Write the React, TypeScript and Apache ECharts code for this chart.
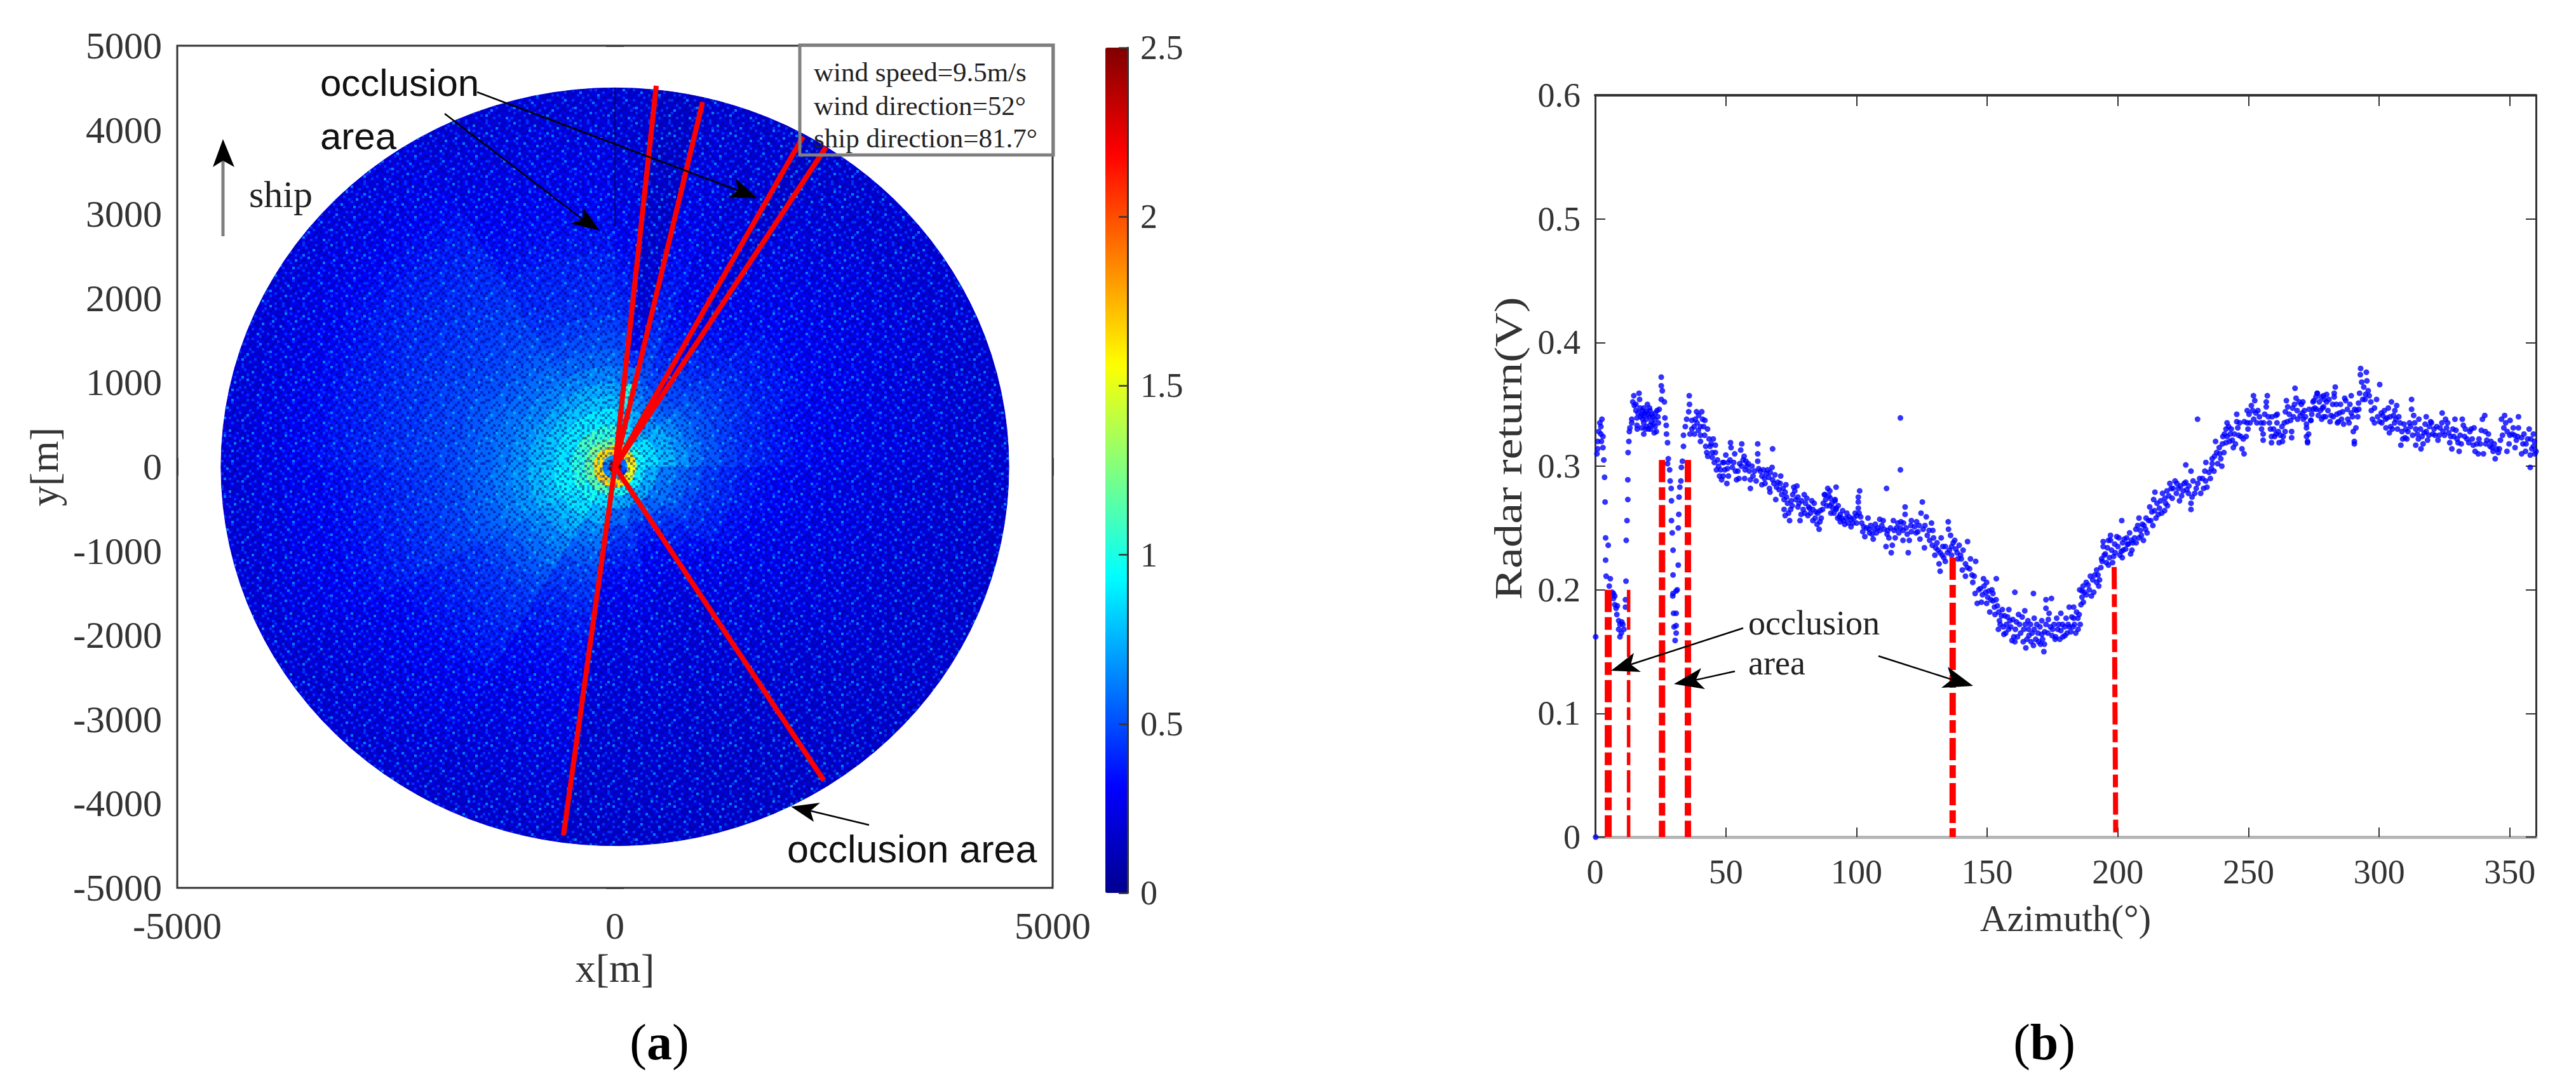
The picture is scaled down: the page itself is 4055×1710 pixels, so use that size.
import React, { useEffect, useRef } from "react";
import * as echarts from "echarts";

// ---- Panel (a): mean radar return per polar cell ----
const bearingEdges = [0, 6, 13, 20, 28.7, 32.4, 45, 70, 90, 110, 130, 147.3, 165, 187.7, 210, 240, 270, 300, 330, 360];
const rangeEdges = [0, 75, 145, 250, 350, 500, 700, 850, 1000, 1200, 1400, 1600, 1800, 2050, 2300, 2550, 2800, 3050, 3300, 3550, 3800, 4150, 4500];
const returnByRing = [
  [250, 250, 250, 250, 250, 250, 250, 250, 250, 250, 250, 250, 250, 250, 250, 250, 250, 250, 250],
  [60, 60, 55, 55, 50, 45, 55, 60, 50, 45, 50, 60, 70, 80, 70, 60, 60, 70, 65],
  [160, 160, 160, 160, 160, 160, 165, 160, 155, 150, 155, 165, 165, 165, 170, 165, 165, 165, 165],
  [115, 115, 110, 105, 100, 95, 100, 95, 90, 90, 95, 95, 100, 110, 115, 118, 118, 125, 120],
  [100, 95, 90, 85, 75, 80, 88, 88, 75, 75, 75, 70, 75, 88, 98, 104, 104, 110, 105],
  [85, 80, 80, 72, 58, 68, 75, 78, 62, 60, 56, 50, 56, 76, 88, 92, 88, 90, 90],
  [78, 100, 68, 62, 48, 58, 66, 68, 56, 54, 46, 40, 46, 66, 78, 82, 80, 80, 80],
  [70, 105, 60, 55, 42, 52, 58, 60, 50, 48, 42, 36, 42, 60, 72, 76, 74, 72, 74],
  [60, 60, 52, 46, 36, 48, 52, 52, 44, 42, 37, 32, 37, 54, 64, 68, 66, 64, 64],
  [54, 40, 48, 42, 32, 44, 47, 46, 40, 38, 33, 29, 33, 48, 58, 62, 60, 58, 56],
  [48, 28, 44, 38, 29, 40, 43, 41, 36, 34, 30, 27, 30, 44, 52, 56, 56, 54, 50],
  [44, 25, 40, 36, 27, 37, 40, 38, 33, 31, 28, 25, 28, 40, 47, 52, 52, 50, 46],
  [40, 23, 38, 33, 25, 34, 37, 35, 31, 29, 26, 24, 26, 37, 43, 47, 48, 47, 42],
  [37, 22, 36, 31, 24, 32, 35, 32, 29, 27, 25, 23, 25, 34, 40, 44, 46, 45, 40],
  [34, 21, 34, 29, 23, 30, 32, 30, 27, 26, 24, 22, 24, 32, 37, 41, 43, 43, 38],
  [31, 20, 32, 28, 22, 29, 30, 29, 26, 25, 23, 22, 23, 30, 35, 38, 41, 41, 35],
  [29, 20, 30, 27, 21, 28, 29, 27, 25, 24, 22, 21, 22, 28, 32, 36, 38, 39, 33],
  [27, 19, 28, 25, 20, 26, 27, 26, 24, 23, 21, 20, 21, 27, 30, 33, 36, 37, 31],
  [25, 19, 27, 24, 20, 25, 26, 25, 23, 22, 21, 20, 21, 25, 28, 31, 33, 34, 29],
  [24, 18, 25, 23, 19, 24, 25, 24, 22, 21, 20, 19, 20, 24, 26, 29, 30, 31, 27],
  [22, 18, 23, 22, 19, 22, 23, 22, 21, 21, 20, 19, 20, 22, 24, 26, 27, 28, 25],
  [21, 18, 21, 21, 18, 21, 22, 21, 20, 20, 19, 18, 19, 21, 22, 23, 24, 25, 23],
];
const jetColors = ["#00008f", "#0000ff", "#0080ff", "#00ffff", "#80ff80", "#ffff00", "#ff8000", "#ff0000", "#800000"];
const occlusionEnds = [[472, 4525], [1001, 4329], [2148, 3921], [2409, 3793], [-588, -4374], [2387, -3725]];
const speckleTile = [
  "010020100130010201001002",
  "200101002001200100310100",
  "001300120010010020010201",
  "120001001200100130200010",
  "001020010002011000102003",
  "030100200110200201000120",
  "100201001003001002013001",
  "002010130020100100200100",
  "210001000102003010001021",
  "001200201010010200130200",
  "100010020001201001000102",
  "020103001200010020201010",
  "001000210010300100010200",
  "120200010102001210030001",
  "000102001000120001020110",
  "201010300201001020100002",
  "010002010010200103001201",
  "002100120100012000201000",
  "100201000230100210010020",
  "030010102000201000102101",
  "200100010120010030200010",
  "010021000001002101001203",
  "102000130200100010020100",
  "001010002010210201000012",
];

// ---- Panel (b): azimuth (deg), return (mV) pairs ----
const startPoints = [0.2, 0, 0.2, 162, 0.7, 310, 1, 320, 1.8, 335, 2.2, 332, 2.2, 326, 3, 324, 3, 315, 3.3, 305, 3.6, 291, 3.8, 271, 4, 242, 5, 236, 4, 224, 4.2, 211, 5.8, 209, 5.4, 203, 7, 197, 1, 314, 1.4, 328, 2.6, 338, 2.4, 320,
  6.5, 198, 7, 193, 7.5, 188, 7.5, 195, 8, 185, 8.3, 180, 8.5, 187, 9, 175, 9, 168, 9.5, 162, 9.5, 172, 10, 165, 10.2, 174, 10.6, 172, 11, 168, 11.6, 186, 11.6, 192, 11.8, 207];
const firstPlateau = [11.9, 240, 12.2, 256, 12.5, 273, 12.5, 289, 12.6, 311, 12.9, 320, 13.1, 328, 13.3, 331, 14, 338, 14, 335, 14.4, 352, 14.8, 357, 16.8, 359, 17, 354, 15.6, 345, 16, 339, 16, 333, 16.1, 330, 17.2, 347, 18.6, 347, 18.6, 341, 18.6, 335, 18.6, 326, 19.6, 344, 19.6, 338, 19.6, 332, 20.8, 347, 20.8, 340, 20.4, 330, 21.7, 342, 22.9, 338, 22.9, 332, 22.6, 327, 23.7, 345, 24.5, 346, 25.3, 354, 25.7, 361, 25.3, 365, 25.3, 372, 26.5, 352, 26.7, 339, 27.2, 333, 27.3, 326, 27.7, 319, 28, 306, 27.7, 302, 28.5, 297, 28.7, 288, 29.1, 282, 29.2, 272, 29.2, 256, 29.5, 246, 29.8, 232, 29.8, 212, 31.4, 200, 29.8, 197, 31.8, 220, 31.8, 250, 32, 261, 32.1, 275, 32.4, 283, 32.8, 288, 33, 299, 33.4, 304, 33.8, 316, 33.8, 325, 34.5, 332, 35, 338, 35.8, 344, 36.1, 350, 36, 357, 29.7, 195, 31, 199, 30, 181, 31, 181, 30.2, 170, 31, 171, 30.6, 159, 31, 165, 21.5, 336, 21, 333, 17.8, 342, 17.8, 331, 20, 350, 15, 349,
  15.6, 350, 16.4, 343, 17.4, 340, 18, 345, 18.2, 338, 19, 343, 19.2, 330, 20.2, 342, 21, 345, 21.2, 330, 22, 340, 22.2, 334, 23, 343, 23.4, 328, 24, 340, 24.2, 335];
const gentleDecline = [36.3, 326, 37, 330, 37, 337, 37.9, 332, 38.3, 338, 39, 335, 39.5, 329, 40.3, 332, 41.1, 338, 41.5, 332, 40.3, 325, 40.3, 320, 41.9, 325, 42.3, 316, 42.7, 311, 43.1, 308, 44, 316, 44.8, 311, 44.8, 307, 46, 311, 45.6, 303, 46.4, 297, 47.6, 292, 48, 297, 49.2, 303, 49.6, 297, 50.4, 286, 50.9, 303, 50, 309, 52, 315, 51.8, 319, 52.5, 299, 53.7, 296, 54.1, 289, 55.3, 302, 55.7, 313, 56.1, 318, 57, 308, 57.7, 304, 57.4, 297, 59, 296, 59.4, 289, 59.4, 282, 61, 296, 62.2, 304, 62.2, 310, 62.2, 318, 63.8, 292, 63.8, 285, 65.5, 294, 67.9, 314, 67.7, 299, 67.9, 289, 66.7, 282, 66.9, 279, 69.1, 273, 69.9, 287, 71, 292, 71.9, 282, 72.7, 279, 72.3, 273, 73.6, 270, 72.3, 265, 72.7, 260, 74.8, 265, 74.4, 256, 76.4, 280, 77.2, 284, 75.6, 277, 77.6, 275, 77.6, 267, 78.4, 256, 78.8, 261, 80, 277, 80.5, 270, 81.7, 267, 82.9, 272, 83.3, 265, 84.5, 263, 83.3, 256, 84.9, 253, 85.7, 249, 86.1, 264, 86.5, 258, 87.3, 270, 87.7, 277, 89, 282, 92.2, 283, 88.2, 273, 90.6, 270, 91.8, 272, 92.2, 265, 93.8, 261, 93.8, 255,
  89.8, 280, 89.8, 268, 91.8, 273, 92.2, 266, 93.4, 259, 94.7, 264, 95.5, 253, 96.3, 262, 97.9, 251, 97.9, 257, 99.5, 262, 100.7, 271, 100.7, 266, 101.2, 280, 100.7, 275, 101.6, 259, 102.8, 251, 103.2, 243, 104.4, 258, 104.8, 249, 106.4, 241, 106.8, 249, 108.9, 257, 109.7, 252, 111.3, 235, 111.7, 245, 113.3, 230, 113.7, 236, 111.5, 282, 114.1, 256, 115.3, 250, 117, 255, 116.8, 297, 116.8, 339, 118.6, 267, 118.6, 261, 117.8, 240, 119.8, 230, 120.2, 240, 117.8, 248, 121, 256, 121, 247, 122.2, 251, 123.5, 247, 124.7, 262, 125.2, 271, 124.3, 241, 125.5, 249, 126.7, 259, 126, 234, 127.1, 244, 128.7, 254, 129.5, 242, 130.3, 234, 130, 228, 132.4, 242, 131.6, 221, 132, 215, 132.8, 228, 134, 223, 134, 235, 135.1, 255, 135.2, 249, 136, 244, 136.4, 235, 137.6, 240, 138.5, 230, 139.3, 236, 142.5, 239];
const declineFill = [38, 326, 38.8, 344, 39.6, 341, 40.8, 344, 42, 337, 43, 330, 43.6, 322, 44.4, 318, 45.2, 322, 46, 317, 46.8, 305, 47.2, 300, 48.4, 289, 48.8, 303, 49, 292, 50.6, 298, 51, 292, 51.6, 305, 53, 303, 53.4, 310, 54.6, 296, 55, 290, 56, 300, 56.6, 305, 57.2, 290, 58, 300, 58.6, 302, 60, 300, 60.4, 292, 61.6, 288, 62.6, 298, 63.2, 296, 64.4, 297, 64.8, 290, 65, 286, 66, 297, 66.4, 291, 67, 295, 68.4, 286, 68.8, 293, 69.4, 283, 70.4, 281, 70.8, 286, 71.4, 277, 73, 285, 73.2, 275, 74, 262, 75, 272, 75.4, 268, 76, 283, 76.8, 273, 78, 270, 79, 272, 79.6, 265, 80.2, 262, 81, 274, 81.4, 260, 82, 266, 82.4, 262, 83.8, 270, 84.2, 258, 85.2, 262, 86, 255, 87, 265, 88, 277, 88.6, 268, 89.4, 276, 90, 274, 90.2, 262, 91, 266, 91.4, 262, 92.8, 258, 93, 268, 94.2, 258, 95, 256, 96, 258, 96.8, 254, 97.2, 259, 98.6, 254, 99, 258, 100, 254, 100.2, 260, 101, 262, 102, 254, 102.4, 247, 103.8, 250, 105, 246, 105.4, 252, 106, 245, 107.2, 253, 107.6, 246, 108.2, 250, 109, 248, 110.2, 256, 110.6, 249, 112, 248, 112.4, 242, 113, 250, 114.4, 248, 114.8, 242, 115.8, 254, 116.2, 246, 116.8, 250, 118, 254, 119, 250, 119.4, 245, 120.8, 252, 122.8, 246, 123, 255, 124, 252, 126.2, 252, 127.8, 248, 128, 240, 129, 236, 129.2, 248, 130.8, 238, 131.2, 232, 132, 230, 133, 235, 133.4, 226, 134.8, 230, 135.6, 232, 136.4, 228, 137, 238, 138, 233, 138.8, 225, 139.8, 228, 140.8, 232];
const troughPoints = [140.1, 225, 140.5, 216, 141.7, 221, 141.7, 211, 143.3, 217, 144.5, 206, 145, 211, 145.6, 223, 145.4, 197, 146.2, 189, 147.4, 201, 148.6, 209, 149.8, 206, 148.2, 196, 149.8, 189, 150.6, 199, 152.2, 197, 153.5, 209, 152.2, 191, 153.9, 187, 151, 182, 153, 180, 154.7, 175, 155.5, 179, 154.3, 168, 157.1, 165, 158.3, 184, 156.7, 179, 158.7, 175, 159.5, 159, 160.8, 168, 160.6, 198, 162, 180, 161.6, 162, 164.4, 183, 164, 168, 164.8, 153, 165.6, 175, 166, 163, 167.7, 197, 167.7, 155, 168, 177, 168, 168, 169.7, 158, 170.9, 175, 170.9, 164, 171.7, 150, 171.9, 156, 172.5, 192, 174.6, 193, 172.5, 185, 173.7, 181, 172.5, 172, 175, 168, 176.2, 162, 176.6, 177, 178.2, 181, 178.2, 167, 180.2, 177, 179.8, 163, 181.4, 186, 181.4, 170, 183.1, 177, 183.9, 165, 183.1, 186, 184.7, 177, 185.9, 188, 186.3, 199, 186.3, 194, 186.7, 203,
  142.4, 218, 143.6, 225, 144.2, 212, 146.8, 200, 147.8, 190, 148.8, 203, 149.4, 198, 150.2, 194, 151.4, 192, 151.8, 200, 152.8, 186, 153.4, 192, 154.4, 182, 155, 172, 155.8, 184, 156.2, 170, 156.4, 164, 157.4, 172, 157.8, 178, 158.2, 168, 159, 170, 159.8, 176, 160.2, 162, 160.6, 158, 161.2, 174, 162.4, 172, 162.8, 165, 163.4, 178, 163.8, 158, 164.6, 172, 165.2, 160, 165.8, 168, 166.6, 172, 166.8, 158, 167.2, 165, 168.6, 160, 169, 172, 169.4, 165, 170.2, 170, 170.4, 156, 171.2, 160, 172, 166, 173.2, 165, 173.4, 176, 174.2, 170, 174.8, 163, 175.6, 172, 176, 160, 177, 168, 177.4, 172, 177.8, 160, 178.8, 172, 179, 162, 179.6, 170, 180.6, 165, 181, 172, 182, 166, 182.4, 178, 182.8, 170, 183.4, 172, 184.2, 182, 184.8, 168, 185.2, 180, 185.6, 172];
const risingPoints = [185.4, 200, 187.9, 206, 189.9, 195, 189.1, 200, 189.5, 211, 191.9, 216, 191.9, 206, 192.7, 203, 193.5, 218, 194.4, 239, 194.4, 235, 194, 223, 196, 234, 195.2, 229, 196.4, 220, 197.2, 244, 197.2, 240, 198.4, 227, 199.6, 243, 200, 235, 201.7, 226, 201.5, 256, 201.3, 231, 202.5, 241, 203.7, 237, 204.9, 229, 204.5, 246, 205.7, 238, 206.9, 249, 208.1, 258, 208.1, 242, 209.8, 240, 209.4, 253, 210.6, 249, 211.8, 256, 212.2, 267, 213, 263, 213.7, 273, 214.6, 258, 214.2, 279, 215.9, 266, 215.5, 261, 217.1, 278, 217.9, 264, 218.3, 270, 219.5, 276, 219.9, 286, 221.9, 288, 221.1, 282, 223.2, 282, 223.6, 272, 224.4, 276, 226, 287, 226, 301, 228, 296, 226.4, 281, 228, 265, 228, 270, 228.4, 275, 228.8, 288, 230, 282, 230.5, 338, 231.3, 290, 231.7, 278, 233.3, 296, 234.1, 283, 234.9, 295, 233.7, 303, 236.1, 302, 236.1, 306, 237.4, 320, 237.8, 311, 239.8, 300, 239.4, 306, 240.6, 311, 241.8, 335, 241.4, 330, 240.2, 324, 241.4, 319, 243, 326, 244.2, 315, 243.8, 321, 245.9, 331, 245.5, 342, 245.5, 336, 247.1, 324, 247.5, 314, 248.3, 310, 249.1, 324, 249.5, 335, 249.5, 345,
  186.8, 190, 187.2, 198, 188, 196, 188.6, 204, 190.4, 208, 190.8, 198, 191.2, 212, 192.4, 212, 193, 208, 193.8, 225, 194.8, 228, 195.6, 222, 196.4, 240, 196.8, 226, 197.6, 232, 198, 222, 198.8, 237, 199, 230, 200.4, 242, 200.8, 228, 201.8, 238, 202, 232, 203, 233, 203.4, 242, 204, 237, 205.2, 240, 205.4, 232, 206.4, 242, 207, 238, 207.6, 252, 208.6, 248, 209, 244, 210, 252, 210.8, 258, 211.2, 246, 212.6, 256, 213.4, 252, 214, 264, 215, 270, 216.4, 272, 216.8, 262, 218, 274, 218.8, 280, 219, 268, 220.4, 282, 220.8, 274, 222.4, 278, 222.6, 286, 224, 284, 225, 280, 225.4, 286, 227, 278, 227.2, 284, 229.4, 278, 230.6, 286, 232.4, 290, 232.8, 282, 233.6, 288, 235.4, 290, 235.8, 298, 236.8, 296, 237, 308, 238.2, 302, 238.8, 315, 239, 310, 240, 318, 240.8, 326, 241.8, 324, 242.4, 332, 242.8, 320, 243.4, 330, 244.6, 326, 245, 318, 246.2, 325, 246.6, 335, 248, 322, 248.4, 336, 249.8, 330];
const crestPoints = [251.1, 349, 251.9, 357, 252.4, 353, 252.8, 343, 253.2, 335, 254.8, 335, 255.6, 326, 255.6, 321, 256.8, 348, 257.2, 357, 256.8, 352, 258, 335, 258.8, 324, 258.8, 319, 260.5, 341, 260.9, 335, 260.5, 326, 261.7, 319, 263.3, 324, 263.7, 335, 264.5, 353, 264.1, 344, 266.1, 337, 266.5, 328, 266.5, 323, 266.9, 347, 267.8, 363, 268.2, 355, 269.4, 352, 269.8, 341, 271.4, 345, 272.2, 334, 273, 326, 272.6, 320, 273.8, 337, 275, 353, 275.4, 347, 276.3, 359, 277.1, 352, 276.7, 341, 278.7, 357, 278.7, 348, 278.7, 340,
  270.6, 343, 271, 338, 272.2, 331, 272.2, 324, 272.6, 319, 273.9, 337, 274.7, 352, 274.7, 346, 276.3, 359, 277.9, 356, 278.3, 347, 279.5, 340, 279.9, 358, 279.9, 352, 281.6, 341, 282.8, 356, 283.2, 364, 283.6, 350, 282.8, 359, 284, 335, 284.8, 343, 286.4, 334, 286.8, 355, 287.2, 353, 288.5, 335, 289.3, 357, 289.3, 343, 290.1, 328, 291.1, 331, 290.5, 318, 290.5, 320, 291.3, 345, 292.1, 351, 292.5, 359, 292.9, 379, 292.8, 374, 295.1, 376, 293.3, 368, 295.3, 369, 294.1, 364, 295.8, 361, 293.7, 354, 296.2, 357, 296.8, 352, 300.2, 366,
  250.2, 342, 250.6, 335, 251.6, 345, 252, 338, 253.6, 345, 254.2, 340, 255, 330, 255.8, 335, 256.2, 342, 257.6, 340, 258.4, 330, 259, 340, 259.6, 330, 260, 324, 261, 342, 261.4, 328, 262.2, 325, 262.8, 332, 263, 320, 264, 328, 264.8, 336, 265, 348, 265.6, 342, 267.2, 340, 267.6, 350, 268.6, 345, 268.8, 338, 270.2, 350, 270.8, 352, 271.8, 340, 273.2, 346, 274.2, 342, 275.8, 356, 276, 346, 277.5, 345, 278, 338, 279, 354, 280.4, 345, 280.8, 354, 281.2, 336, 282.2, 350, 282.4, 340, 283.8, 342, 284.4, 336, 285.2, 350, 285.6, 338, 286, 344, 287.8, 346, 288, 338, 288.8, 350, 289.8, 340, 290.6, 346, 291.8, 340, 292.2, 346, 294.6, 354, 294.8, 358, 297, 345];
const tailPoints = [297.4, 338, 298.2, 347, 299, 354, 298.2, 335, 300.2, 336, 301.4, 341, 302.6, 331, 303.5, 347, 303.9, 327, 304.7, 352, 305.5, 341, 305.9, 335, 306.7, 349, 307.5, 340, 308.3, 317, 308.7, 328, 309.5, 334, 309.9, 323, 311.6, 335, 312.4, 354, 312.4, 346, 313.2, 341, 314, 330, 314, 317, 315.2, 338, 316, 314, 316.4, 324, 318, 340, 317.6, 334, 318.5, 321, 319.7, 336, 320.5, 326, 322.5, 321, 324.1, 343, 323.3, 331, 325.4, 338, 325.8, 331, 327.4, 324, 327.8, 314, 329, 338, 329.4, 329, 330.6, 312, 330.2, 319, 331.8, 338, 332.2, 333, 332.7, 324, 334.3, 319, 334.7, 328, 336.3, 331, 336.7, 312, 337.9, 310, 339.1, 329, 339.5, 338, 340.4, 341, 338.7, 318, 339.9, 310, 341.2, 321, 342.4, 316, 343.6, 312, 344.4, 306, 345.6, 311, 346.4, 321, 346.8, 338, 348, 341, 347.7, 331, 348.9, 312, 349.7, 318, 350.1, 337, 350.9, 326, 351.3, 331, 352.5, 321, 353.3, 340, 353.3, 331, 354.5, 310, 354.5, 323, 356.2, 318, 357.4, 330, 357.8, 299, 357.8, 309, 359, 326, 359, 316, 360, 312,
  299.4, 340, 300.8, 343, 301, 335, 302, 345, 302.4, 338, 303, 339, 304.2, 340, 304.4, 332, 305, 330, 306, 345, 306.4, 338, 307, 330, 308, 335, 309, 322, 310.2, 330, 310.6, 322, 311, 328, 312, 332, 312.8, 325, 313.6, 335, 314.6, 326, 315, 322, 315.8, 330, 316.8, 318, 317.2, 327, 318, 328, 319, 325, 319.2, 332, 320, 335, 321, 330, 321.4, 325, 322, 332, 323, 325, 324, 335, 324.4, 328, 325, 325, 326.2, 335, 326.6, 327, 327, 319, 328.2, 330, 328.6, 324, 329.8, 322, 331, 325, 331.4, 318, 333, 330, 333.6, 322, 335.2, 330, 335.6, 322, 336, 317, 337.4, 318, 338.2, 322, 340.6, 328, 340.8, 318, 341.8, 326, 342.8, 320, 343.2, 315, 344, 318, 345, 314, 346, 314, 347.2, 325, 348.4, 335, 349, 328, 350, 325, 351.8, 325, 352, 315, 353, 324, 355, 318, 355.4, 326, 356, 312, 356.8, 322, 358, 322, 358.4, 314, 359.4, 320, 359.6, 310];
const dashedMarkers = [
  { az: [5, 5], top: 0.2, width: 11 },
  { az: [12.8, 12.8], top: 0.2, width: 5.5 },
  { az: [25.6, 25.6], top: 0.305, width: 10 },
  { az: [35.5, 35.5], top: 0.305, width: 10 },
  { az: [136.8, 136.8], top: 0.226, width: 10 },
  { az: [198.6, 199.2], top: 0.2185, width: 8 },
];

const SERIF = "'Liberation Serif', 'Times New Roman', serif";
const SANS = "'Liberation Sans', Arial, sans-serif";
const INK = "#333333";

function pairs(flat: number[]) {
  const out: number[][] = [];
  for (let i = 0; i < flat.length; i += 2) out.push([flat[i], flat[i + 1] / 1000]);
  return out;
}

function arrow(tail: number[], tip: number[], a: number[], b: number[]) {
  const mx = (a[0] + b[0]) / 2, my = (a[1] + b[1]) / 2;
  const notch = [mx + (tip[0] - mx) * 0.25, my + (tip[1] - my) * 0.25];
  return [
    { type: "line", z: 100, shape: { x1: tail[0], y1: tail[1], x2: notch[0], y2: notch[1] }, style: { stroke: "#000", lineWidth: 2.5 } },
    { type: "polygon", z: 100, shape: { points: [tip, a, notch, b] }, style: { fill: "#000" } },
  ];
}

function label(text: string, x: number, y: number, fontSize: number, fontFamily = SERIF, extra: any = {}) {
  return {
    type: "text", z: 101, x, y,
    style: { text, fontSize, fontFamily, fill: "#222", align: "left", verticalAlign: "middle", ...extra },
  };
}

function makeSpeckle() {
  const cell = 4;
  const c = document.createElement("canvas");
  c.width = c.height = speckleTile.length * cell;
  const g = c.getContext("2d")!;
  const fills: Record<string, string> = {
    "1": "rgba(0,0,120,0.5)",
    "2": "rgba(0,100,255,0.5)",
    "3": "rgba(0,210,255,0.6)",
  };
  speckleTile.forEach((row, j) => {
    for (let i = 0; i < row.length; i++) {
      if (fills[row[i]]) {
        g.fillStyle = fills[row[i]];
        g.fillRect(i * cell, j * cell, cell, cell);
      }
    }
  });
  return c;
}

export default function App() {
  const ref = useRef<HTMLDivElement>(null);
  useEffect(() => {
    const chart = echarts.init(ref.current!, undefined, { renderer: "svg" });
    const speckle = makeSpeckle();

    const cells: number[][] = [];
    returnByRing.forEach((row, r) => {
      row.forEach((v, s) => {
        cells.push([bearingEdges[s], bearingEdges[s + 1], rangeEdges[r], rangeEdges[r + 1], v / 100]);
      });
    });

    const renderCell = (_: any, api: any) => {
      const a0 = api.value(0), a1 = api.value(1), r0 = api.value(2), r1 = api.value(3);
      const steps = Math.max(1, Math.ceil((a1 - a0) / 3));
      const pts: number[][] = [];
      for (let i = 0; i <= steps; i++) {
        const t = ((a0 + ((a1 - a0) * i) / steps) * Math.PI) / 180;
        pts.push(api.coord([r1 * Math.sin(t), r1 * Math.cos(t)]));
      }
      for (let i = steps; i >= 0; i--) {
        const t = ((a0 + ((a1 - a0) * i) / steps) * Math.PI) / 180;
        pts.push(api.coord([r0 * Math.sin(t), r0 * Math.cos(t)]));
      }
      const color = api.visual("color");
      return { type: "polygon", shape: { points: pts }, style: { fill: color, stroke: color, lineWidth: 1 } };
    };

    const renderSpeckle = (_: any, api: any) => {
      const c = api.coord([api.value(0), api.value(1)]);
      const s = api.size([api.value(2), api.value(2)]);
      return {
        type: "ellipse",
        shape: { cx: c[0], cy: c[1], rx: s[0], ry: s[1] },
        style: { fill: { image: speckle, repeat: "repeat" } },
      };
    };

    const tickStyle = { color: INK, width: 2.5 };
    const hiddenAxis = (gridIndex: number) => ({
      gridIndex, show: false, type: "value", min: 0, max: 1,
    });
    const plain = (v: number) => String(v);
    const leftLabel = { color: INK, fontFamily: SERIF, fontSize: 60, formatter: plain };
    const rightLabel = { color: INK, fontFamily: SERIF, fontSize: 54 };
    const barLabel = { color: INK, fontFamily: SERIF, fontSize: 54, formatter: plain };
    const frame = (c: string, w: number) => ({ show: true, onZero: false, lineStyle: { color: c, width: w } });

    const allPoints = [
      ...pairs(startPoints), ...pairs(firstPlateau), ...pairs(gentleDecline), ...pairs(declineFill),
      ...pairs(troughPoints), ...pairs(risingPoints), ...pairs(crestPoints), ...pairs(tailPoints),
    ];

    const graphic: any[] = [
      // ship marker
      { type: "line", z: 100, shape: { x1: 351, y1: 372, x2: 351, y2: 250 }, style: { stroke: "#808080", lineWidth: 5 } },
      { type: "polygon", z: 100, shape: { points: [[351, 219], [335, 263], [351, 253], [369, 263]] }, style: { fill: "#000" } },
      label("ship", 392, 306, 60),
      label("occlusion", 504, 130, 60, SANS, { fill: "#111" }),
      label("area", 504, 214, 60, SANS, { fill: "#111" }),
      ...arrow([700, 179], [944, 363], [918, 327], [898, 352]),
      ...arrow([751, 145], [1192, 312], [1158, 281], [1146, 311]),
      ...arrow([1368, 1299], [1245, 1270], [1291, 1264], [1281, 1294]),
      label("occlusion area", 1239, 1337, 61, SANS, { fill: "#111" }),
      // info box
      { type: "rect", z: 100, shape: { x: 1259, y: 71, width: 399, height: 173 }, style: { fill: "none", stroke: "#7f7f7f", lineWidth: 5 } },
      label("wind speed=9.5m/s", 1281, 113, 43),
      label("wind direction=52°", 1281, 166, 43),
      label("ship direction=81.7°", 1281, 217, 43),
      // panel (b) annotations
      ...arrow([2744, 989], [2536, 1056], [2572, 1028], [2583, 1058]),
      ...arrow([2731, 1057], [2635, 1077], [2678, 1052], [2684, 1085]),
      ...arrow([2957, 1033], [3106, 1080], [3066, 1050], [3056, 1083]),
      label("occlusion", 2752, 981, 54),
      label("area", 2752, 1044, 54),
      { type: "text", z: 101, x: 2374, y: 706, rotation: Math.PI / 2, scaleX: 1.2, originX: 0, originY: 0,
        style: { text: "Radar return(V)", fontSize: 62, fontFamily: SERIF, fill: INK, align: "center", verticalAlign: "middle" } },
      // captions
      { type: "text", z: 101, x: 1038, y: 1641, style: { text: "{n|(}{b|a}{n|)}", align: "center", verticalAlign: "middle",
          rich: { n: { fontFamily: SERIF, fontSize: 80, fill: "#000" }, b: { fontFamily: SERIF, fontSize: 80, fontWeight: "bold", fill: "#000" } } } },
      { type: "text", z: 101, x: 3218, y: 1641, style: { text: "{n|(}{b|b}{n|)}", align: "center", verticalAlign: "middle",
          rich: { n: { fontFamily: SERIF, fontSize: 80, fill: "#000" }, b: { fontFamily: SERIF, fontSize: 80, fontWeight: "bold", fill: "#000" } } } },
    ];

    chart.setOption({
      animation: false,
      backgroundColor: "#ffffff",
      grid: [
        { left: 279, top: 72, width: 1378, height: 1326, show: true, borderColor: INK, borderWidth: 3, backgroundColor: "transparent" },
        { left: 1740, top: 75, width: 35, height: 1331 },
        { left: 2511, top: 150, width: 1481, height: 1168 },
      ],
      visualMap: {
        type: "continuous", seriesIndex: 0, dimension: 4, min: 0, max: 2.5,
        left: 1740, top: 75, itemWidth: 35, itemHeight: 1331, padding: 0,
        calculable: false, realtime: false, hoverLink: false, showLabel: false, text: ["", ""],
        inRange: { color: jetColors },
      },
      xAxis: [
        { gridIndex: 0, type: "value", min: -5000, max: 5000, interval: 5000, name: "x[m]", nameLocation: "middle", nameGap: 92,
          nameTextStyle: { color: INK, fontFamily: SERIF, fontSize: 64 },
          axisLine: { show: false }, axisTick: { inside: true, length: 14, lineStyle: tickStyle }, splitLine: { show: false },
          axisLabel: { ...leftLabel, margin: 30 } },
        { gridIndex: 0, type: "value", position: "top", min: -5000, max: 5000, interval: 5000,
          axisLine: { show: false }, axisTick: { inside: true, length: 14, lineStyle: tickStyle }, splitLine: { show: false }, axisLabel: { show: false } },
        hiddenAxis(1),
        { gridIndex: 2, type: "value", min: 0, max: 360, interval: 50, name: "Azimuth(°)", nameLocation: "middle", nameGap: 98,
          nameTextStyle: { color: INK, fontFamily: SERIF, fontSize: 59 },
          axisLine: frame("#b5b5b5", 5), axisTick: { inside: true, length: 15, lineStyle: { color: INK, width: 2 } }, splitLine: { show: false },
          axisLabel: { ...rightLabel, margin: 28, formatter: (v: number) => (v === 360 ? "" : String(v)) } },
        { gridIndex: 2, type: "value", position: "top", min: 0, max: 360, interval: 50,
          axisLine: frame(INK, 4), axisTick: { inside: true, length: 17, lineStyle: { color: INK, width: 2 } }, splitLine: { show: false }, axisLabel: { show: false } },
      ],
      yAxis: [
        { gridIndex: 0, type: "value", min: -5000, max: 5000, interval: 1000, name: "y[m]", nameLocation: "middle", nameGap: 178,
          nameTextStyle: { color: INK, fontFamily: SERIF, fontSize: 64 },
          axisLine: { show: false }, axisTick: { inside: true, length: 14, lineStyle: tickStyle }, splitLine: { show: false },
          axisLabel: { ...leftLabel, margin: 24 } },
        { gridIndex: 0, type: "value", position: "right", min: -5000, max: 5000, interval: 1000,
          axisLine: { show: false }, axisTick: { inside: true, length: 14, lineStyle: tickStyle }, splitLine: { show: false }, axisLabel: { show: false } },
        { gridIndex: 1, type: "value", position: "right", min: 0, max: 2.5, interval: 0.5, z: 10,
          axisLine: frame(INK, 3), axisTick: { inside: true, length: 14, lineStyle: tickStyle }, splitLine: { show: false },
          axisLabel: { ...barLabel, margin: 20 } },
        { gridIndex: 2, type: "value", min: 0, max: 0.6, interval: 0.1,
          axisLine: frame(INK, 3), axisTick: { inside: true, length: 16, lineStyle: { color: INK, width: 2 } }, splitLine: { show: false },
          axisLabel: { ...rightLabel, margin: 23 } },
        { gridIndex: 2, type: "value", position: "right", min: 0, max: 0.6, interval: 0.1,
          axisLine: frame(INK, 3), axisTick: { inside: true, length: 16, lineStyle: { color: INK, width: 2 } }, splitLine: { show: false }, axisLabel: { show: false } },
      ],
      series: [
        { type: "custom", xAxisIndex: 0, yAxisIndex: 0, coordinateSystem: "cartesian2d", renderItem: renderCell, data: cells, silent: true, z: 2 },
        { type: "custom", xAxisIndex: 0, yAxisIndex: 0, coordinateSystem: "cartesian2d", renderItem: renderSpeckle, data: [[0, 0, 4500]], silent: true, z: 3 },
        { type: "line", xAxisIndex: 0, yAxisIndex: 0, data: [[0, 4500], [0, 2850]], showSymbol: false, symbol: "none", z: 4, silent: true,
          lineStyle: { color: "#00005a", width: 1.5 } },
        ...occlusionEnds.map((end) => ({
          type: "line", xAxisIndex: 0, yAxisIndex: 0, data: [[0, 0], end], symbol: "none", z: 5, silent: true,
          lineStyle: { color: "#ff0000", width: 8 },
        })),
        { type: "scatter", xAxisIndex: 3, yAxisIndex: 3, data: allPoints, symbol: "circle", symbolSize: 9, z: 5, silent: true,
          itemStyle: { color: "#0000ff" } },
        ...dashedMarkers.map((m) => ({
          type: "line", xAxisIndex: 3, yAxisIndex: 3, data: [[m.az[0], m.top], [m.az[1], 0]], symbol: "none", z: 6, silent: true,
          lineStyle: { color: "#ff0000", width: m.width, type: [35, 8, 20, 8], cap: "butt" },
        })),
      ],
      graphic,
    });
    return () => chart.dispose();
  }, []);
  return <div ref={ref} style={{ position: "absolute", left: 0, top: 0, width: 4055, height: 1710, background: "#fff" }} />;
}
